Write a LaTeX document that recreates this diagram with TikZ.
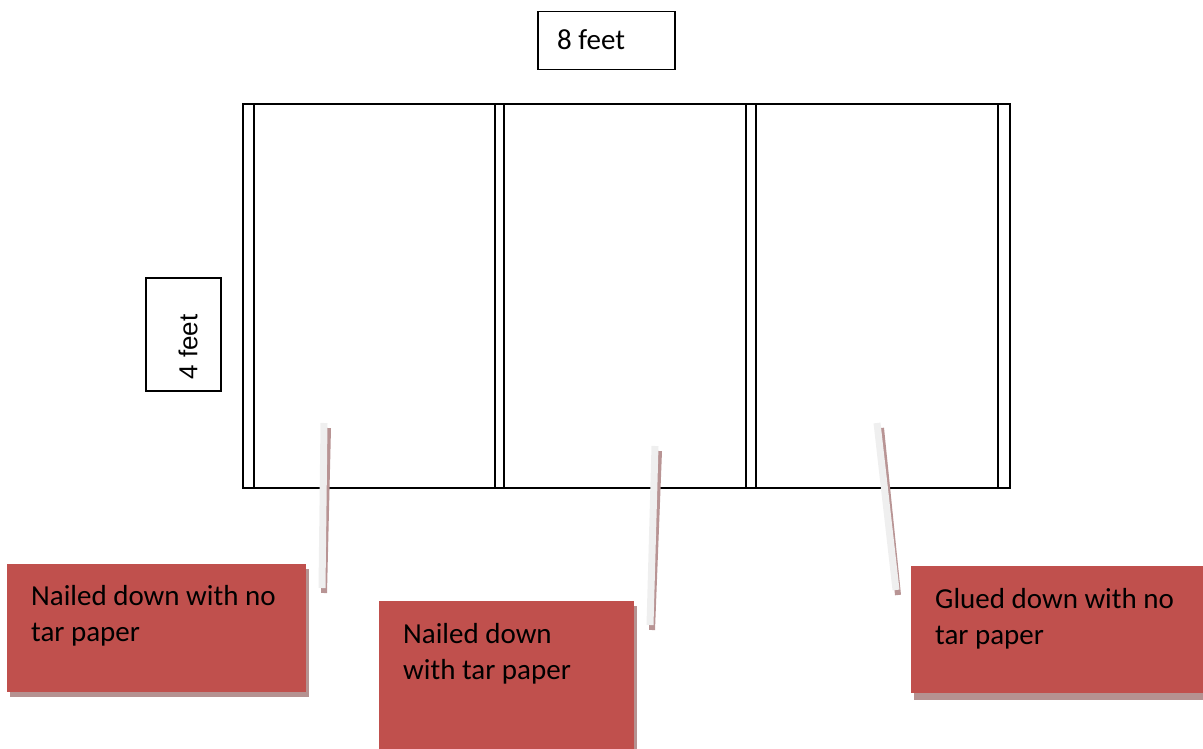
\documentclass[tikz,border=0pt]{standalone}
\usepackage{fontspec}
\newfontfamily\calfont{Carlito}
\newfontfamily\arifont{Liberation Sans}
\definecolor{boxred}{RGB}{192,80,77}
\definecolor{boxshadow}{RGB}{181,146,145}
\definecolor{leadgrey}{RGB}{239,239,239}
\definecolor{leadshadow}{RGB}{184,148,148}
\begin{document}
\begin{tikzpicture}[x=1pt,y=-1pt,
  panelline/.style={line width=1.5pt,black},
  dimbox/.style={draw=black,line width=1.5pt,fill=white,inner sep=0pt},
  redbox/.style={fill=boxred,inner sep=0pt,anchor=north west},
  redshadow/.style={fill=boxshadow},
  labeltext/.style={font=\calfont\fontsize{29}{36}\selectfont,anchor=base west,inner sep=0pt,align=left},
  leadline/.style={line width=7pt,leadgrey},
  leadshade/.style={line width=6pt,leadshadow}]
\useasboundingbox (0,0) rectangle (1203,749);
% floor plan
\draw[panelline] (243,104) rectangle (1010,488);
\foreach \xx in {254,495,504,746,756,998}{
  \draw[panelline] (\xx,104) -- (\xx,488);
}
% dimension labels
\node[dimbox,minimum width=137pt,minimum height=58pt,anchor=north west] (eight) at (537,11) {};
\node[font=\calfont\fontsize{29}{34}\selectfont,anchor=base west,inner sep=0pt] (eighttxt) at (557,50) {8 feet};
\node[dimbox,minimum width=75pt,minimum height=113pt,anchor=north west] (four) at (145,277) {};
\node[font=\arifont\fontsize{26}{32}\selectfont,rotate=90,inner sep=0pt] (fourtxt) at (188,347) {4 feet};
% leader lines (shadow then light line)
\coordinate (a1) at (324,423); \coordinate (b1) at (322,588);
\coordinate (a2) at (655,446); \coordinate (b2) at (650,625);
\coordinate (a3) at (877,423); \coordinate (b3) at (896,590);
\draw[leadshade] ([shift={(4,5)}]a1) -- ([shift={(2,5)}]b1);
\draw[leadline] (a1) -- (b1);
\draw[leadshade] ([shift={(4,5)}]a2) -- ([shift={(2,5)}]b2);
\draw[leadline] (a2) -- (b2);
\draw[leadshade] ([shift={(4,5)}]a3) -- ([shift={(2,5)}]b3);
\draw[leadline] (a3) -- (b3);
% red boxes
\fill[redshadow] (10,569) rectangle (309,697);
\node[redbox,minimum width=299pt,minimum height=128pt] (box1) at (7,564) {};
\node[labeltext] (t1) at (31,641) {Nailed down with no\\tar paper};
\fill[redshadow] (382,606) rectangle (637,760);
\node[redbox,minimum width=255pt,minimum height=160pt] (box2) at (379,601) {};
\node[labeltext] (t2) at (403,679) {Nailed down\\with tar paper};
\fill[redshadow] (914,571) rectangle (1210,700);
\node[redbox,minimum width=300pt,minimum height=127pt] (box3) at (911,566) {};
\node[labeltext] (t3) at (935,644) {Glued down with no\\tar paper};
\end{tikzpicture}
\end{document}
